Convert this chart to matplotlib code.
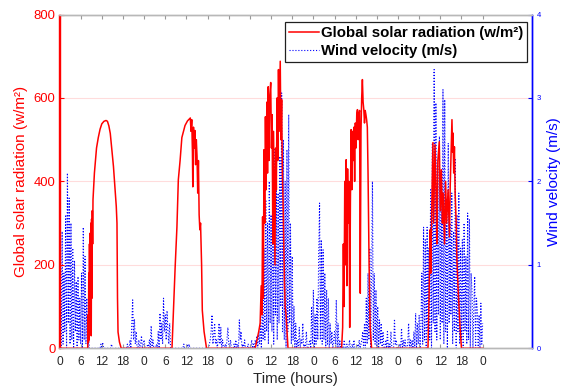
import numpy as np
import matplotlib.pyplot as plt

plt.rcParams['font.family'] = ['Liberation Sans', 'DejaVu Sans']

# global solar radiation: time (h) and value (W/m2), 5 days
solar_t = [0, 8.0,
           8.1, 8.2, 8.3, 8.4, 8.5, 8.6, 8.7, 8.8, 8.9, 9.0, 9.1, 9.2, 9.3, 9.4, 9.5,
           9.9, 10.5, 11.0, 11.5, 12.0, 12.6, 13.2, 13.6, 14.0, 14.4, 14.8, 15.3,
           15.7, 16.1, 16.3, 16.45, 16.6, 17.0, 17.5,
           31.9, 32.4, 32.8, 33.3, 33.7, 34.2, 34.7, 35.6, 36.3, 37.1, 37.3, 37.5,
           37.7, 37.8, 38.0, 38.2, 38.4, 38.6, 38.8, 39.0, 39.2, 39.4, 39.6, 39.8,
           40.0, 40.3, 40.5, 41.0, 41.7,
           55.5, 56.0, 56.5, 56.9, 57.2, 57.4, 57.6, 57.8, 58.0, 58.2, 58.4, 58.6,
           58.8, 59.0, 59.2, 59.4, 59.6, 59.9, 60.1, 60.3, 60.5, 60.7, 60.9, 61.1,
           61.3, 61.5, 61.7, 61.9, 62.1, 62.3, 62.6, 62.8, 63.0, 63.2, 63.4, 63.6,
           63.8, 64.0, 64.3, 64.8,
           80.0, 80.3, 80.5, 80.7, 80.9, 81.1, 81.3, 81.5, 81.7, 81.9, 82.1, 82.3,
           82.5, 82.7, 82.9, 83.1, 83.3, 83.5, 83.7, 83.9, 84.1, 84.3, 84.5, 84.7,
           84.9, 85.1, 85.3, 85.5, 85.7, 85.9, 86.1, 86.3, 86.5, 86.7, 86.9, 87.1,
           87.3, 87.5, 87.8, 88.1, 88.5,
           104.5, 104.8, 105.1, 105.3, 105.6, 105.9, 106.1, 106.5, 106.8, 107.0,
           107.3, 107.7, 108.0, 108.3, 108.6, 108.8, 109.2, 109.5, 109.8, 110.2,
           110.6, 110.8, 111.0, 111.3, 111.5, 111.6, 111.8, 112.0, 112.2, 112.5,
           112.7, 113.1, 113.6, 114.0, 120.0]
solar_v = [0, 0,
           80, 15, 180, 20, 250, 40, 276, 60, 300, 30, 310, 120, 330, 250, 356,
           420, 480, 505, 525, 538, 544, 546, 544, 533, 515, 480, 436,
           387, 340, 300, 120, 39, 15, 0,
           0, 110, 195, 290, 404, 450, 505, 534, 545, 552, 520, 548,
           470, 387, 530, 480, 522, 440, 500, 460, 372, 450, 320, 284,
           300, 200, 91, 40, 0,
           0, 20, 40, 60, 150, 80, 315, 120, 476, 300, 555, 380,
           590, 420, 627, 450, 600, 637, 480, 560, 250, 520, 350, 200,
           480, 380, 600, 450, 668, 520, 688, 500, 596, 420, 350, 250,
           156, 100, 75, 0,
           0, 50, 250, 100, 400, 200, 452, 150, 430, 300, 400, 50,
           350, 524, 380, 520, 450, 530, 400, 540, 480, 560, 572, 500,
           560, 570, 132, 520, 600, 644, 590, 572, 540, 570, 560, 548,
           530, 420, 200, 50, 0,
           0, 120, 284, 180, 350, 493, 300, 488, 372, 250,
           450, 495, 330, 428, 300, 372, 250, 400, 300, 380,
           267, 387, 450, 548, 470, 516, 420, 483, 372, 300,
           212, 132, 50, 0, 0]

# wind velocity every 15 min (m/s), one row = 6 hours
wind = [
    0.1, 1.2, 0.0, 1.4, 0.05, 0.9, 0.2, 1.6, 0.0, 2.1, 0.3, 1.8, 0.05, 1.5, 0.1, 1.2, 0.0, 1.05, 0.2, 0.8, 0.0, 0.86, 0.1, 0.6,
    0.05, 0.9, 0.0, 1.45, 0.1, 1.1, 0.05, 0.6, 0.0, 0.1, 0.0, 0.0, 0.0, 0.0, 0.0, 0.0, 0.0, 0.0, 0.0, 0.0, 0.0, 0.0, 0.0, 0.05,
    0.0, 0.07, 0.0, 0.0, 0.0, 0.0, 0.0, 0.0, 0.0, 0.0, 0.0, 0.05, 0.0, 0.0, 0.0, 0.0, 0.0, 0.0, 0.0, 0.0, 0.0, 0.0, 0.0, 0.0,
    0.0, 0.0, 0.0, 0.0, 0.0, 0.05, 0.0, 0.0, 0.1, 0.0, 0.3, 0.58, 0.1, 0.35, 0.05, 0.2, 0.0, 0.0, 0.1, 0.0, 0.05, 0.15, 0.0, 0.05,
    0.1, 0.0, 0.0, 0.0, 0.05, 0.0, 0.1, 0.0, 0.27, 0.0, 0.1, 0.0, 0.0, 0.0, 0.05, 0.0, 0.2, 0.0, 0.42, 0.1, 0.3, 0.05, 0.6, 0.2,
    0.4, 0.1, 0.45, 0.2, 0.05, 0.3, 0.0, 0.0, 0.0, 0.0, 0.0, 0.0, 0.0, 0.0, 0.0, 0.0, 0.0, 0.0, 0.0, 0.0, 0.0, 0.05, 0.0, 0.0,
    0.0, 0.05, 0.0, 0.05, 0.0, 0.0, 0.0, 0.0, 0.0, 0.0, 0.0, 0.0, 0.0, 0.0, 0.0, 0.0, 0.0, 0.0, 0.0, 0.0, 0.0, 0.0, 0.0, 0.0,
    0.0, 0.0, 0.05, 0.1, 0.2, 0.4, 0.05, 0.15, 0.3, 0.05, 0.1, 0.0, 0.1, 0.3, 0.05, 0.25, 0.0, 0.1, 0.0, 0.0, 0.05, 0.0, 0.1, 0.25,
    0.05, 0.0, 0.1, 0.0, 0.0, 0.0, 0.05, 0.0, 0.1, 0.0, 0.05, 0.0, 0.34, 0.1, 0.2, 0.0, 0.05, 0.0, 0.1, 0.0, 0.0, 0.0, 0.05, 0.0,
    0.0, 0.0, 0.1, 0.0, 0.05, 0.0, 0.1, 0.05, 0.15, 0.0, 0.2, 0.05, 0.3, 0.0, 0.6, 0.1, 1.2, 0.1, 1.78, 0.2, 1.5, 0.05, 2.0, 0.3,
    1.6, 0.2, 2.2, 0.05, 2.4, 0.4, 1.9, 0.1, 1.86, 0.3, 2.3, 0.5, 3.06, 0.2, 2.5, 0.1, 2.0, 0.0, 2.38, 0.2, 2.8, 0.3, 1.5, 0.05,
    1.1, 0.1, 0.5, 0.0, 0.3, 0.0, 0.1, 0.0, 0.25, 0.0, 0.1, 0.05, 0.3, 0.0, 0.05, 0.0, 0.2, 0.0, 0.0, 0.05, 0.1, 0.0, 0.5, 0.05,
    0.7, 0.0, 0.4, 0.05, 0.6, 0.1, 1.1, 1.74, 0.1, 1.3, 0.05, 1.18, 0.1, 0.9, 0.0, 0.7, 0.05, 0.6, 0.0, 0.3, 0.05, 0.2, 0.0, 0.1,
    0.2, 0.05, 0.58, 0.0, 0.3, 0.0, 0.1, 0.0, 0.05, 0.0, 0.0, 0.1, 0.0, 0.0, 0.05, 0.0, 0.0, 0.1, 0.0, 0.0, 0.05, 0.0, 0.1, 0.0,
    0.0, 0.0, 0.05, 0.0, 0.1, 0.0, 0.05, 0.1, 0.2, 0.0, 0.3, 0.0, 0.6, 0.05, 0.9, 0.1, 1.2, 0.0, 0.8, 2.0, 0.1, 0.9, 0.05, 0.7,
    0.0, 0.5, 0.0, 0.34, 0.05, 0.3, 0.0, 0.2, 0.0, 0.0, 0.1, 0.0, 0.2, 0.0, 0.05, 0.0, 0.2, 0.0, 0.0, 0.0, 0.35, 0.05, 0.1, 0.0,
    0.0, 0.0, 0.05, 0.0, 0.24, 0.0, 0.1, 0.0, 0.1, 0.0, 0.0, 0.05, 0.3, 0.0, 0.1, 0.0, 0.1, 0.0, 0.2, 0.0, 0.42, 0.0, 0.3, 0.05,
    0.4, 0.0, 0.3, 0.9, 0.05, 1.45, 0.1, 1.3, 0.0, 1.45, 0.2, 1.2, 0.1, 1.9, 0.0, 2.46, 0.3, 3.34, 0.2, 2.94, 0.1, 2.2, 0.4, 2.54,
    0.1, 2.0, 0.3, 3.1, 0.05, 2.98, 0.2, 1.8, 0.0, 2.46, 0.3, 1.5, 0.4, 1.86, 0.05, 1.4, 0.2, 2.26, 0.0, 1.6, 0.2, 1.86, 0.05, 1.2,
    0.1, 1.3, 0.0, 1.5, 0.2, 1.1, 0.05, 1.62, 0.1, 1.55, 0.0, 0.9, 0.66, 0.0, 0.5, 0.86, 0.0, 0.6, 0.46, 0.0, 0.4, 0.0, 0.54, 0.05,
    0.3]
wind_t = np.arange(len(wind)) * 0.25

hour_ticks = np.arange(0, 121, 6)
hour_labels = ['0', '6', '12', '18'] * 5 + ['0']

gris = '#b8b8b8'

fig = plt.figure(figsize=(5.62, 3.89), dpi=100)
ax = fig.add_axes([59.5 / 562, 1 - 348.3 / 389, 472.5 / 562, 333.8 / 389])
ax2 = ax.twinx()

# radiation on top of the wind trace
ax.set_zorder(2)
ax2.set_zorder(1)
ax.patch.set_visible(False)

l2, = ax2.plot(wind_t, wind, color='blue', lw=0.8, ls=':')
l1, = ax.plot(solar_t, solar_v, color='red', lw=1.1)

ax.set_xlim(0, 134)
ax.set_ylim(0, 800)
ax2.set_ylim(0, 4)
ax.set_xticks(hour_ticks)
ax.set_xticklabels(hour_labels)
ax.set_yticks([0, 200, 400, 600, 800])
ax2.set_yticks([0, 1, 2, 3, 4])

# grid lives on the lower axes so it stays behind both traces
ax2.set_axisbelow(True)
ax2.grid(axis='x', color='#e8e8e8', lw=0.8)
ax2.grid(axis='y', color='#ffdcdc', lw=0.8)

for a in (ax, ax2):
    a.spines['left'].set_color('red')
    a.spines['right'].set_color('blue')
    a.spines['top'].set_color(gris)
    a.spines['bottom'].set_color(gris)
    for s in a.spines.values():
        s.set_linewidth(1.0)

ax.tick_params(axis='x', direction='in', top=True, length=3, width=0.8, color='#999999',
               labelsize=8.6, labelcolor='#262626', pad=5.5)
ax.tick_params(axis='y', direction='in', length=3, color='red', labelcolor='red',
               labelsize=9.4, pad=3)
ax2.tick_params(axis='y', direction='in', length=3, color='blue', labelcolor='blue',
                labelsize=5.5, pad=3.5)

ax.set_xlabel('Time (hours)', fontsize=10.8, color='#262626', labelpad=3)
ax.set_ylabel('Global solar radiation (w/m²)', color='red', fontsize=11)
ax2.set_ylabel('Wind velocity (m/s)', color='blue', fontsize=11, labelpad=4)

leg = ax.legend([l1, l2], ['Global solar radiation (w/m²)', 'Wind velocity (m/s)'],
                loc='upper right', bbox_to_anchor=(0.9894, 0.9775), borderaxespad=0,
                prop={'weight': 'bold', 'size': 10.8}, fancybox=False, framealpha=1,
                edgecolor='#202020', handlelength=2.0, handletextpad=0.15,
                borderpad=0.25, labelspacing=0.3)
leg.get_frame().set_linewidth(0.9)

fig.savefig('out.png', dpi=100)
